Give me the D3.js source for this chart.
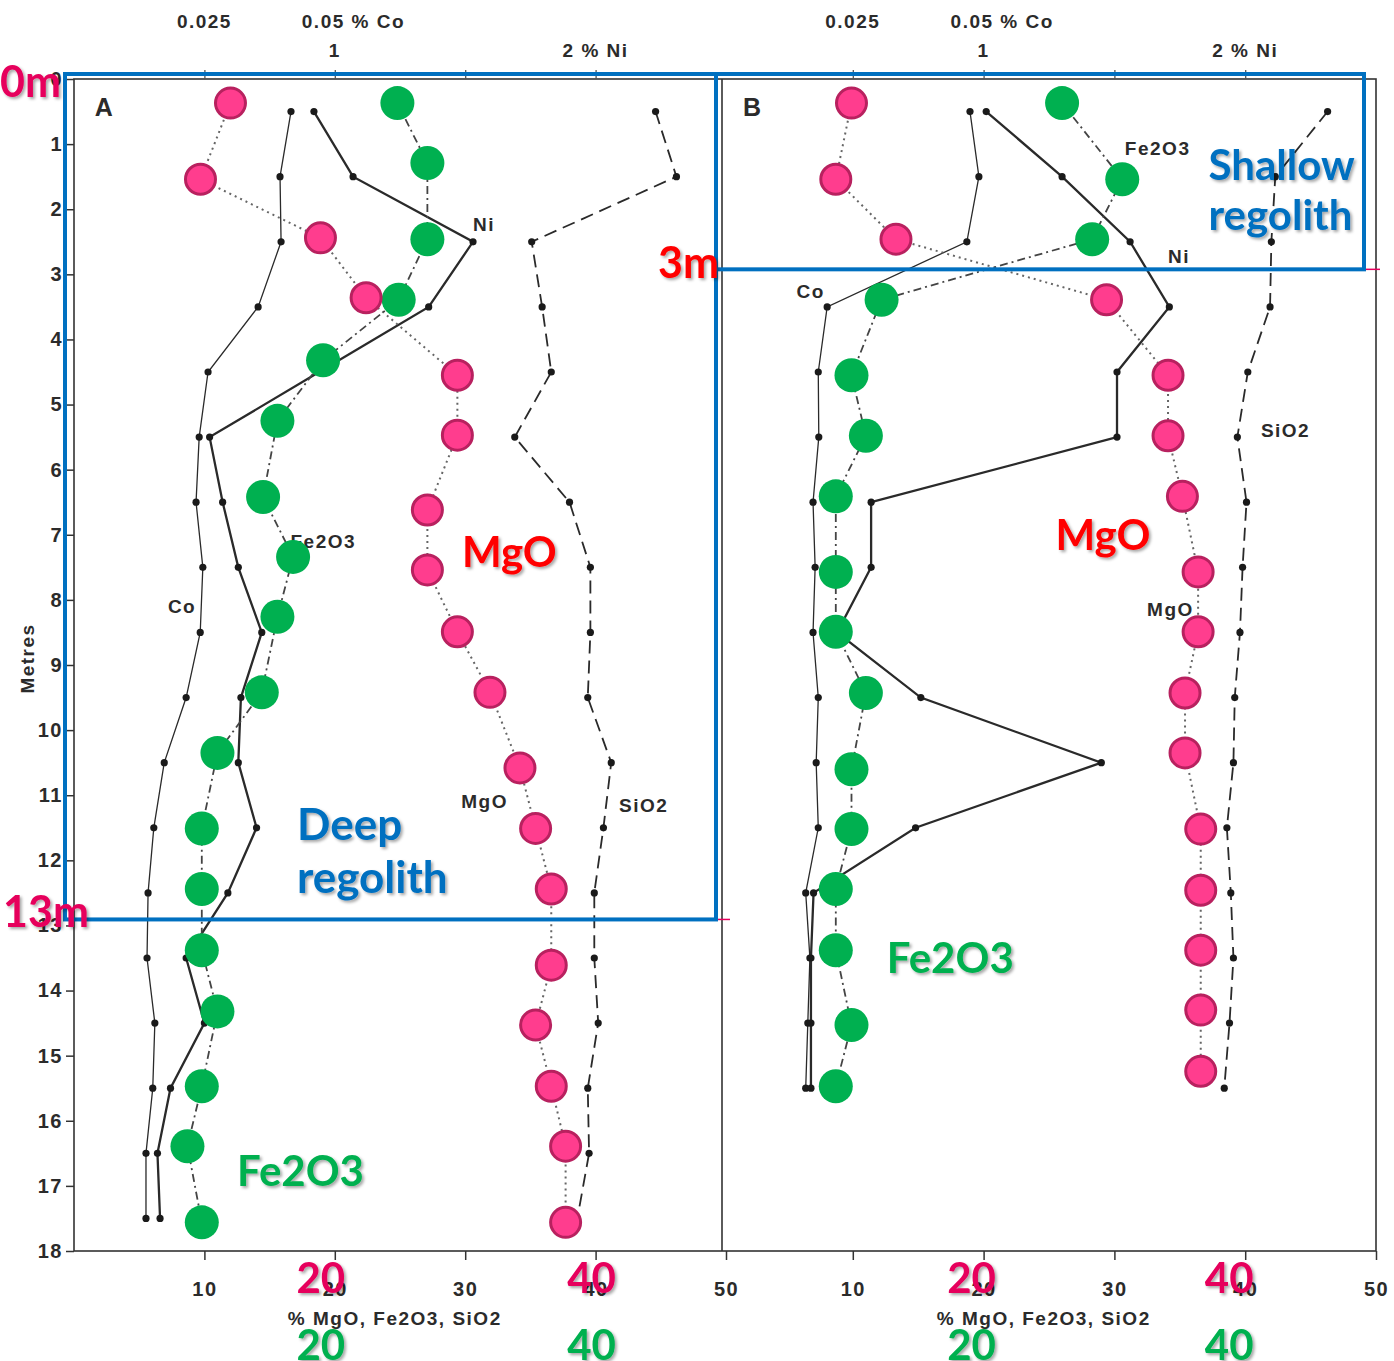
<!DOCTYPE html>
<html>
<head>
<meta charset="utf-8">
<script src="https://cdn.jsdelivr.net/npm/d3@7"></script>
<style>
  body { margin: 0; background: #fff; }
  svg { display: block; }
  .orig text { font-family: "Liberation Sans", Arial, sans-serif; font-weight: bold; fill: #2b2b2b; letter-spacing: 1.5px; }
  .big { font-family: Lato, "Open Sans", sans-serif; font-weight: bold; }
</style>
</head>
<body>
<svg width="1394" height="1361"></svg>
<script>
// sample depths (m) of the Co, Ni, SiO2 profiles
const sampleDepthA = [0.5, 1.5, 2.5, 3.5, 4.5, 5.5, 6.5, 7.5, 8.5, 9.5, 10.5, 11.5, 12.5, 13.5, 14.5, 15.5, 16.5, 17.5];
const coA   = [0.0416, 0.0395, 0.0397, 0.0353, 0.0257, 0.0240, 0.0234, 0.0247, 0.0242, 0.0215, 0.0173, 0.0153, 0.0142, 0.0140, 0.0155, 0.0151, 0.0138, 0.0138];
const niA   = [0.92, 1.07, 1.53, 1.36, 0.94, 0.52, 0.57, 0.63, 0.72, 0.64, 0.63, 0.70, 0.59, 0.43, 0.50, 0.37, 0.32, 0.33];
const sio2A = [44.6, 46.2, 35.1, 35.9, 36.6, 33.8, 38.0, 39.6, 39.6, 39.4, 41.2, 40.6, 39.9, 39.9, 40.2, 39.4, 39.5, 38.6];
// MgO and Fe2O3 (highlighted markers)
const mgoDepthA = [0.37, 1.54, 2.44, 3.36, 4.55, 5.47, 6.62, 7.54, 8.49, 9.42, 10.58, 11.51, 12.44, 13.61, 14.53, 15.47, 16.39, 17.56];
const mgoA      = [12.0, 9.7, 18.9, 22.4, 29.4, 29.4, 27.1, 27.1, 29.4, 31.9, 34.2, 35.4, 36.6, 36.6, 35.4, 36.6, 37.7, 37.7];
const feDepthA  = [0.37, 1.29, 2.46, 3.39, 4.32, 5.25, 6.42, 7.34, 8.26, 9.42, 10.35, 11.51, 12.44, 13.38, 14.32, 15.47, 16.39, 17.56];
const feA       = [24.8, 27.1, 27.1, 24.9, 19.1, 15.6, 14.5, 16.8, 15.6, 14.4, 11.0, 9.8, 9.8, 9.8, 11.0, 9.8, 8.7, 9.8];

const sampleDepthB = [0.5, 1.5, 2.5, 3.5, 4.5, 5.5, 6.5, 7.5, 8.5, 9.5, 10.5, 11.5, 12.5, 13.5, 14.5, 15.5];
const coB   = [0.0474, 0.0491, 0.0468, 0.0201, 0.0184, 0.0185, 0.0174, 0.0178, 0.0174, 0.0184, 0.0180, 0.0184, 0.0160, 0.0168, 0.0164, 0.0160];
const niB   = [1.01, 1.30, 1.56, 1.71, 1.51, 1.51, 0.57, 0.57, 0.44, 0.76, 1.45, 0.74, 0.35, 0.34, 0.34, 0.34];
const sio2B = [46.3, 42.3, 42.0, 41.9, 40.2, 39.4, 40.1, 39.8, 39.6, 39.2, 39.1, 38.6, 38.9, 39.1, 38.8, 38.4];
const mgoDepthB = [0.37, 1.54, 2.46, 3.39, 4.55, 5.48, 6.41, 7.57, 8.49, 9.43, 10.35, 11.52, 12.46, 13.38, 14.30, 15.24];
const mgoB      = [9.9, 8.7, 13.3, 29.4, 34.1, 34.1, 35.2, 36.4, 36.4, 35.4, 35.4, 36.6, 36.6, 36.6, 36.6, 36.6];
const feDepthB  = [0.37, 1.54, 2.46, 3.39, 4.55, 5.48, 6.41, 7.57, 8.49, 9.43, 10.60, 11.52, 12.44, 13.38, 14.53, 15.47];
const feB       = [26.0, 30.6, 28.3, 12.2, 9.9, 11.0, 8.7, 8.7, 8.7, 11.0, 9.9, 9.9, 8.7, 8.7, 9.9, 8.7];

// ticks
const depthTicks = [0, 1, 2, 3, 4, 5, 6, 7, 8, 9, 10, 11, 12, 13, 14, 15, 16, 17, 18];
const pctTicks = [10, 20, 30, 40, 50];
const coTicks = [0.025, 0.05];
const coTickLabels = ['0.025', '0.05 % Co'];
const niTicks = [1, 2];
const niTickLabels = ['1', '2 % Ni'];
const highlightTicks = [20, 40];

const svg = d3.select('svg');
const pink = '#e6005c', red = '#ff0000', green = '#00b050', blue = '#0070c0';

const defs = svg.append('defs');
defs.append('filter').attr('id', 'shadow').attr('x', '-10%').attr('y', '-10%').attr('width', '130%').attr('height', '140%')
  .append('feDropShadow').attr('dx', 2).attr('dy', 2).attr('stdDeviation', 1.4)
  .attr('flood-color', '#000').attr('flood-opacity', 0.35);

const y = d3.scaleLinear().domain([0, 18]).range([79, 1251]);

const panels = [
  { name: 'A', left: 74, right: 726, depth: sampleDepthA, co: coA, ni: niA, sio2: sio2A,
    mgoDepth: mgoDepthA, mgo: mgoA, feDepth: feDepthA, fe: feA, hlShift: [-14, -4] },
  { name: 'B', left: 722, right: 1376, depth: sampleDepthB, co: coB, ni: niB, sio2: sio2B,
    mgoDepth: mgoDepthB, mgo: mgoB, feDepth: feDepthB, fe: feB, hlShift: [-12, -16] }
];
panels.forEach(p => {
  p.x = d3.scaleLinear().domain([0, 50]).range([p.left, p.right]);
  p.xCo = d3.scaleLinear().domain([0, 0.125]).range([p.left, p.right]);
  p.xNi = d3.scaleLinear().domain([0, 2.5]).range([p.left, p.right]);
});

const orig = svg.append('g').attr('class', 'orig');

// frame
orig.append('rect')
  .attr('x', panels[0].left).attr('y', y(0))
  .attr('width', panels[1].right - panels[0].left).attr('height', y(18) - y(0))
  .attr('fill', 'none').attr('stroke', '#333').attr('stroke-width', 1.6);
orig.append('line')
  .attr('x1', panels[1].left).attr('x2', panels[1].left)
  .attr('y1', y(0)).attr('y2', y(18))
  .attr('stroke', '#333').attr('stroke-width', 1.6);

// depth axis
const yAxis = orig.append('g')
  .attr('transform', `translate(${panels[0].left},0)`)
  .call(d3.axisLeft(y).tickValues(depthTicks).tickSize(8).tickPadding(3));
yAxis.select('.domain').remove();
yAxis.selectAll('line').attr('stroke', '#333').attr('stroke-width', 1.5);
yAxis.selectAll('text').attr('font-size', 20).attr('fill', '#2b2b2b').attr('font-family', null);

orig.append('text')
  .attr('transform', `translate(34,${y(8.9)}) rotate(-90)`)
  .attr('text-anchor', 'middle')
  .attr('font-size', 19)
  .text('Metres');

panels.forEach(p => {
  // bottom axis
  const bx = orig.append('g')
    .attr('transform', `translate(0,${y(18)})`)
    .call(d3.axisBottom(p.x).tickValues(pctTicks).tickSize(9).tickPadding(22));
  bx.select('.domain').remove();
  bx.selectAll('line').attr('stroke', '#333').attr('stroke-width', 1.5);
  bx.selectAll('text').attr('font-size', 20).attr('fill', '#2b2b2b').attr('font-family', null);

  orig.append('text')
    .attr('x', p.x(24.6)).attr('y', 1325)
    .attr('text-anchor', 'middle').attr('font-size', 19)
    .text('% MgO, Fe2O3, SiO2');

  // top axis
  const tx = orig.append('g')
    .attr('transform', `translate(0,${y(0)})`)
    .call(d3.axisTop(p.x).tickValues([10, 20, 30, 40]).tickSize(9).tickFormat(''));
  tx.select('.domain').remove();
  tx.selectAll('line').attr('stroke', '#555').attr('stroke-width', 1.3);

  orig.selectAll(null).data(coTicks).enter().append('text')
    .attr('x', (d, i) => i === 0 ? p.xCo(d) : p.xCo(d) - 33)
    .attr('y', 28)
    .attr('text-anchor', (d, i) => i === 0 ? 'middle' : 'start')
    .attr('font-size', 19)
    .text((d, i) => coTickLabels[i]);

  orig.selectAll(null).data(niTicks).enter().append('text')
    .attr('x', d => p.xNi(d))
    .attr('y', 57)
    .attr('text-anchor', 'middle')
    .attr('font-size', 19)
    .text((d, i) => niTickLabels[i]);

  orig.append('text')
    .attr('x', p.x(1.6)).attr('y', 116)
    .attr('font-size', 25)
    .text(p.name);

  // profiles
  const g = orig.append('g');
  const prof = (vals, sx) => vals.map((v, i) => [sx(v), y(p.depth[i])]);
  const line = d3.line();

  const series = [
    { pts: prof(p.co, p.xCo), width: 1.3, dash: null },
    { pts: prof(p.ni, p.xNi), width: 2.3, dash: null },
    { pts: prof(p.sio2, p.x), width: 1.8, dash: '13,7' }
  ];
  series.forEach(s => {
    g.append('path').attr('d', line(s.pts))
      .attr('fill', 'none').attr('stroke', '#2a2a2a')
      .attr('stroke-width', s.width).attr('stroke-dasharray', s.dash);
    g.selectAll(null).data(s.pts).enter().append('circle')
      .attr('cx', d => d[0]).attr('cy', d => d[1]).attr('r', 3.6)
      .attr('fill', '#1a1a1a');
  });

  const mgoPts = p.mgo.map((v, i) => [p.x(v), y(p.mgoDepth[i])]);
  const fePts = p.fe.map((v, i) => [p.x(v), y(p.feDepth[i])]);
  g.append('path').attr('d', line(mgoPts))
    .attr('fill', 'none').attr('stroke', '#666').attr('stroke-width', 2)
    .attr('stroke-dasharray', '2,4');
  g.append('path').attr('d', line(fePts))
    .attr('fill', 'none').attr('stroke', '#444').attr('stroke-width', 1.8)
    .attr('stroke-dasharray', '8,4,2,4');

  p.mgoPts = mgoPts;
  p.fePts = fePts;
});

// series labels of the original figure
const seriesLabels = [
  { panel: 0, text: 'Ni', v: 30.6, d: 2.33 },
  { panel: 0, text: 'Fe2O3', v: 16.6, d: 7.2 },
  { panel: 0, text: 'Co', v: 7.2, d: 8.2 },
  { panel: 0, text: 'MgO', v: 29.7, d: 11.2 },
  { panel: 0, text: 'SiO2', v: 41.8, d: 11.25 },
  { panel: 1, text: 'Fe2O3', v: 30.8, d: 1.17 },
  { panel: 1, text: 'Ni', v: 34.1, d: 2.82 },
  { panel: 1, text: 'Co', v: 5.7, d: 3.36 },
  { panel: 1, text: 'SiO2', v: 41.2, d: 5.5 },
  { panel: 1, text: 'MgO', v: 32.5, d: 8.25 }
];
orig.selectAll(null).data(seriesLabels).enter().append('text')
  .attr('x', d => panels[d.panel].x(d.v))
  .attr('y', d => y(d.d))
  .attr('font-size', 19)
  .text(d => d.text);

// highlight markers
const marks = svg.append('g');
panels.forEach(p => {
  marks.selectAll(null).data(p.fePts).enter().append('circle')
    .attr('cx', d => d[0]).attr('cy', d => d[1]).attr('r', 17)
    .attr('fill', green);
  marks.selectAll(null).data(p.mgoPts).enter().append('circle')
    .attr('cx', d => d[0]).attr('cy', d => d[1]).attr('r', 15)
    .attr('fill', '#ff3d8e').attr('stroke', '#b8215f').attr('stroke-width', 3);
});

// regolith boxes
const xa = panels[0].x, xb = panels[1].x;
const boxes = svg.append('g').attr('fill', 'none').attr('stroke', blue).attr('stroke-width', 4);
boxes.append('rect')
  .attr('x', xa(0) - 9).attr('y', y(0) - 5)
  .attr('width', xa(50) - 10 - (xa(0) - 9)).attr('height', y(13) - 6 - (y(0) - 5));
boxes.append('rect')
  .attr('x', xa(50) - 10).attr('y', y(0) - 5)
  .attr('width', xb(50) - 12 - (xa(50) - 10)).attr('height', y(3) - 5 - (y(0) - 5));
svg.append('line').attr('x1', xa(50) - 8).attr('x2', xa(50) + 4)
  .attr('y1', y(13) - 6).attr('y2', y(13) - 6).attr('stroke', pink).attr('stroke-width', 1.5);
svg.append('line').attr('x1', xb(50) - 10).attr('x2', xb(50) + 4)
  .attr('y1', y(3) - 5).attr('y2', y(3) - 5).attr('stroke', pink).attr('stroke-width', 1.5);

// overlay annotations
const notes = svg.append('g').attr('class', 'big').attr('filter', 'url(#shadow)');
const note = (x, yy, text, color, size) => notes.append('text')
  .attr('x', x).attr('y', yy).attr('fill', color).attr('font-size', size).text(text);

note(0, y(0) + 18, '0m', pink, 43);
note(xa(50) - 68, y(3) + 4, '3m', red, 43);
note(3, y(13) + 2, '13m', pink, 43);

note(xa(17.1), y(11.69), 'Deep', blue, 44);
note(xa(17.1), y(12.5), 'regolith', blue, 44);
note(xb(37.2), y(1.55), 'Shallow', blue, 42);
note(xb(37.2), y(2.32), 'regolith', blue, 42);

note(xa(29.75), y(7.5), 'MgO', red, 42);
note(xb(25.5), y(7.24), 'MgO', red, 42);
note(xa(12.5), y(17.0), 'Fe2O3', green, 42);
note(xb(12.6), y(13.73), 'Fe2O3', green, 42);

panels.forEach(p => {
  notes.selectAll(null).data(highlightTicks).enter().append('text')
    .attr('x', (d, i) => p.x(d) + p.hlShift[i]).attr('y', 1293)
    .attr('text-anchor', 'middle').attr('fill', pink).attr('font-size', 42)
    .text(d => d);
  notes.selectAll(null).data(highlightTicks).enter().append('text')
    .attr('x', (d, i) => p.x(d) + p.hlShift[i]).attr('y', 1360)
    .attr('text-anchor', 'middle').attr('fill', green).attr('font-size', 42)
    .text(d => d);
});
</script>
</body>
</html>
